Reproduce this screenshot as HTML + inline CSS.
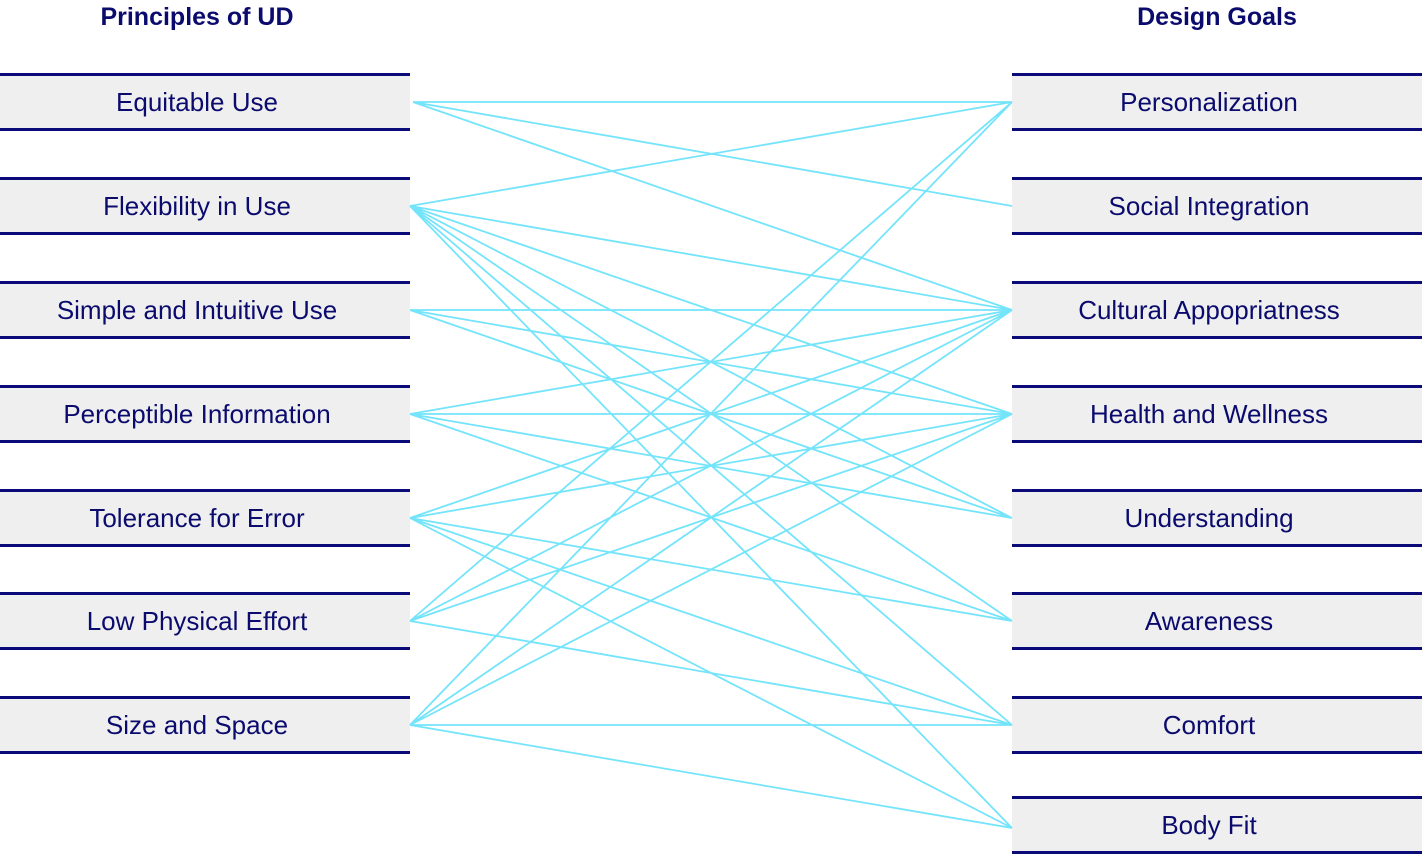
<!DOCTYPE html>
<html><head><style>
body{margin:0;width:1422px;height:855px;position:relative;background:#fff;font-family:"Liberation Sans",sans-serif;overflow:hidden}
.b{position:absolute;width:394px;padding-right:16px;height:52px;background:#efefef;border-top:3px solid #0a0a78;border-bottom:3px solid #0a0a78;color:#0b0b6e;font-size:26px;text-align:center;line-height:52px;box-sizing:content-box}
.h{position:absolute;top:0;color:#0b0b6e;font-weight:bold;font-size:25px;text-align:center;width:410px;line-height:34px}
svg{position:absolute;left:0;top:0}
</style></head><body>
<div class="h" style="left:-8px">Principles of UD</div>
<div class="h" style="left:1012px">Design Goals</div>
<div class="b" style="left:0;top:73px">Equitable Use</div>
<div class="b" style="left:0;top:177px">Flexibility in Use</div>
<div class="b" style="left:0;top:281px">Simple and Intuitive Use</div>
<div class="b" style="left:0;top:385px">Perceptible Information</div>
<div class="b" style="left:0;top:489px">Tolerance for Error</div>
<div class="b" style="left:0;top:592px">Low Physical Effort</div>
<div class="b" style="left:0;top:696px">Size and Space</div>
<div class="b" style="left:1012px;top:73px">Personalization</div>
<div class="b" style="left:1012px;top:177px">Social Integration</div>
<div class="b" style="left:1012px;top:281px">Cultural Appopriatness</div>
<div class="b" style="left:1012px;top:385px">Health and Wellness</div>
<div class="b" style="left:1012px;top:489px">Understanding</div>
<div class="b" style="left:1012px;top:592px">Awareness</div>
<div class="b" style="left:1012px;top:696px">Comfort</div>
<div class="b" style="left:1012px;top:796px">Body Fit</div>
<svg width="1422" height="855" stroke="#74e4fb" stroke-width="1.8" fill="none">
<path d="M413 102L1012 102M413 102L1012 206M413 102L1012 310
M410 206L1012 102M410 206L1012 310M410 206L1012 414M410 206L1012 518M410 206L1012 621M410 206L1012 725M410 206L1012 828
M410 310L1012 310M410 310L1012 414M410 310L1012 518
M410 414L1012 310M410 414L1012 414M410 414L1012 518M410 414L1012 621
M410 518L1012 310M410 518L1012 414M410 518L1012 621M410 518L1012 725M410 518L1012 828
M410 621L1012 102M410 621L1012 310M410 621L1012 414M410 621L1012 725
M410 725L1012 102M410 725L1012 310M410 725L1012 414M410 725L1012 725M410 725L1012 828"/>
</svg>
</body></html>
